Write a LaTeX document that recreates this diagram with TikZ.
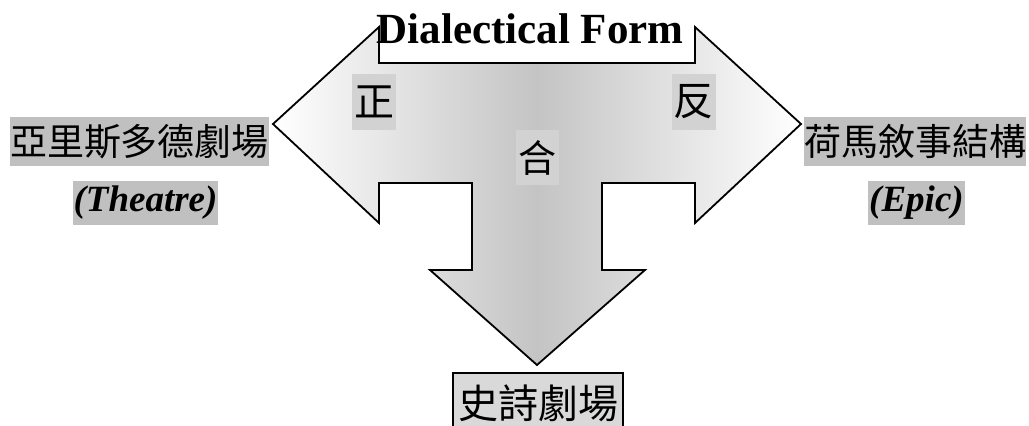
\documentclass[tikz,border=0pt]{standalone}
\usepackage{fontspec}
\setmainfont{Liberation Serif}
\newfontfamily\cjk{Noto Sans CJK TC}
\usetikzlibrary{positioning}
\definecolor{cshade}{HTML}{C4C4C4}
\definecolor{clabel}{HTML}{C0C0C0}
\definecolor{csign}{HTML}{D2D2D2}
\definecolor{cbox}{HTML}{D9D9D9}
\tikzset{
  every picture/.style={line width=1.8pt},
  bigarrow/.style={draw=black, line join=miter, left color=white, right color=white, middle color=cshade},
  title/.style={font=\bfseries\fontsize{43}{48}\selectfont, inner sep=0pt},
  side/.style={fill=clabel, inner sep=0pt, minimum height=49pt, font=\cjk\fontsize{37}{40}\selectfont},
  latin/.style={fill=clabel, inner sep=1pt, minimum height=44pt, font=\bfseries\itshape\fontsize{37}{40}\selectfont},
  sign/.style={fill=csign, inner sep=0pt, minimum width=44pt, minimum height=56pt, font=\cjk\fontsize{40}{44}\selectfont},
  result/.style={draw=black, fill=cbox, inner sep=0pt, minimum width=170pt, minimum height=60pt, font=\cjk\fontsize{40}{44}\selectfont},
}
\begin{document}
\begin{tikzpicture}[x=1pt, y=-1pt]
  \useasboundingbox (0,0) rectangle (1029,426);
  % the double arrow with the downward arrow
  \draw[bigarrow] (273,124) -- (379,27) -- (379,63) -- (695,63) -- (695,27) -- (801,124)
    -- (695,223) -- (695,183) -- (602,183) -- (602,270) -- (645,270) -- (537,365)
    -- (430,270) -- (472,270) -- (472,183) -- (379,183) -- (379,223) -- cycle;
  % labels on the arrow
  \node[title, anchor=base] (form) at (530,43) {Dialectical Form};
  \node[sign] (thesis) at (374,102) {正};
  \node[sign] (anti) at (693.5,102) {反};
  \node[sign, minimum width=43pt, minimum height=55pt, font=\cjk\fontsize{38}{42}\selectfont] (synth) at (537.5,157.5) {合};
  % the two sides
  \node[side] (aris) at (139.5,141.5) {亞里斯多德劇場};
  \node[latin] (theatre) at (145.5,203) {(Theatre)};
  \node[side] (homer) at (915,141.5) {荷馬敘事結構};
  \node[latin] (epic) at (916.5,203) {(Epic)};
  % result
  \node[result, anchor=north] (epicth) at (538,372) {史詩劇場};
\end{tikzpicture}
\end{document}
